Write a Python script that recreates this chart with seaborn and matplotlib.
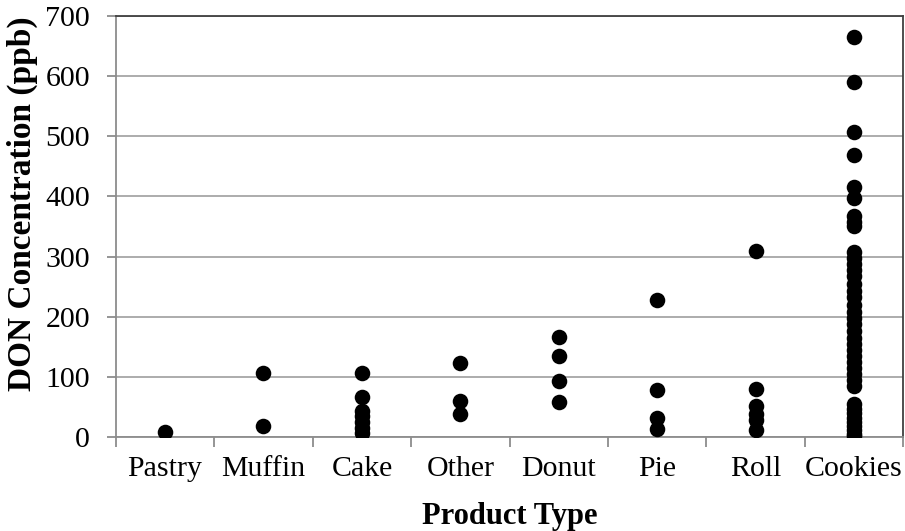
import matplotlib
matplotlib.use("Agg")
import matplotlib.pyplot as plt
import seaborn as sns
import pandas as pd
from matplotlib.ticker import FixedLocator, MultipleLocator

# DON concentration (ppb) per sample, grouped by product type
categories = ["Pastry", "Muffin", "Cake", "Other", "Donut", "Pie", "Roll", "Cookies"]
pastry = [8]
muffin = [107, 19]
cake = [107, 66, 44, 35, 25, 15, 7]
other = [123, 60, 39]
donut = [166, 134, 93, 59]
pie = [228, 78, 31, 14]
roll = [309, 80, 52, 38, 28, 12]
cookies = [665, 590, 507, 468, 415, 397, 368, 358, 350,
           307, 298, 288, 278, 268, 255, 243, 232, 220, 208,
           198, 188, 176, 165, 155, 145, 135, 124, 114, 104,
           94, 85, 55, 47, 40, 32, 25, 18, 11, 5, 2]

groups = [pastry, muffin, cake, other, donut, pie, roll, cookies]
df = pd.DataFrame({
    "Product Type": [c for c, g in zip(categories, groups) for _ in g],
    "DON": [v for g in groups for v in g],
})

sns.set_style("white")
plt.rcParams["font.family"] = ["Liberation Serif", "DejaVu Serif"]

fig = plt.figure(figsize=(9.05, 5.31), dpi=100)
ax = fig.add_axes([0.128, 0.177, 0.870, 0.793])

sns.stripplot(data=df, x="Product Type", y="DON", order=categories,
              jitter=False, color="black", size=11.2, linewidth=0, ax=ax,
              zorder=3)

ax.set_xlim(-0.5, 7.5)
ax.set_ylim(0, 700)
ax.yaxis.set_major_locator(MultipleLocator(100))
ax.grid(axis="y", color="#a6a6a6", linewidth=1.3, zorder=0)
ax.set_axisbelow(True)

for side in ("left", "bottom"):
    ax.spines[side].set_color("#8c8c8c")
    ax.spines[side].set_linewidth(1.3)
for side in ("top", "right"):
    ax.spines[side].set_color("#404040")
    ax.spines[side].set_linewidth(1.3)

ax.tick_params(axis="y", which="major", direction="out", length=6.5,
               width=1.3, color="#8c8c8c", labelsize=21.5, pad=12,
               left=True, labelcolor="black")
ax.tick_params(axis="x", which="major", length=0, labelsize=21.5, pad=14,
               labelcolor="black")
ax.xaxis.set_minor_locator(FixedLocator([i - 0.5 for i in range(len(categories) + 1)]))
ax.tick_params(axis="x", which="minor", direction="out", length=7,
               width=1.3, color="#8c8c8c", bottom=True)

ax.set_xlabel("Product Type", fontsize=22, fontweight="bold", color="black",
              va="center")
ax.xaxis.set_label_coords(0.5006, -0.188)
ax.set_ylabel("DON Concentration (ppb)", fontsize=24, fontweight="bold",
              color="black", va="center")
ax.yaxis.set_label_coords(-0.119, 0.555)

fig.savefig("out.png", dpi=100)
